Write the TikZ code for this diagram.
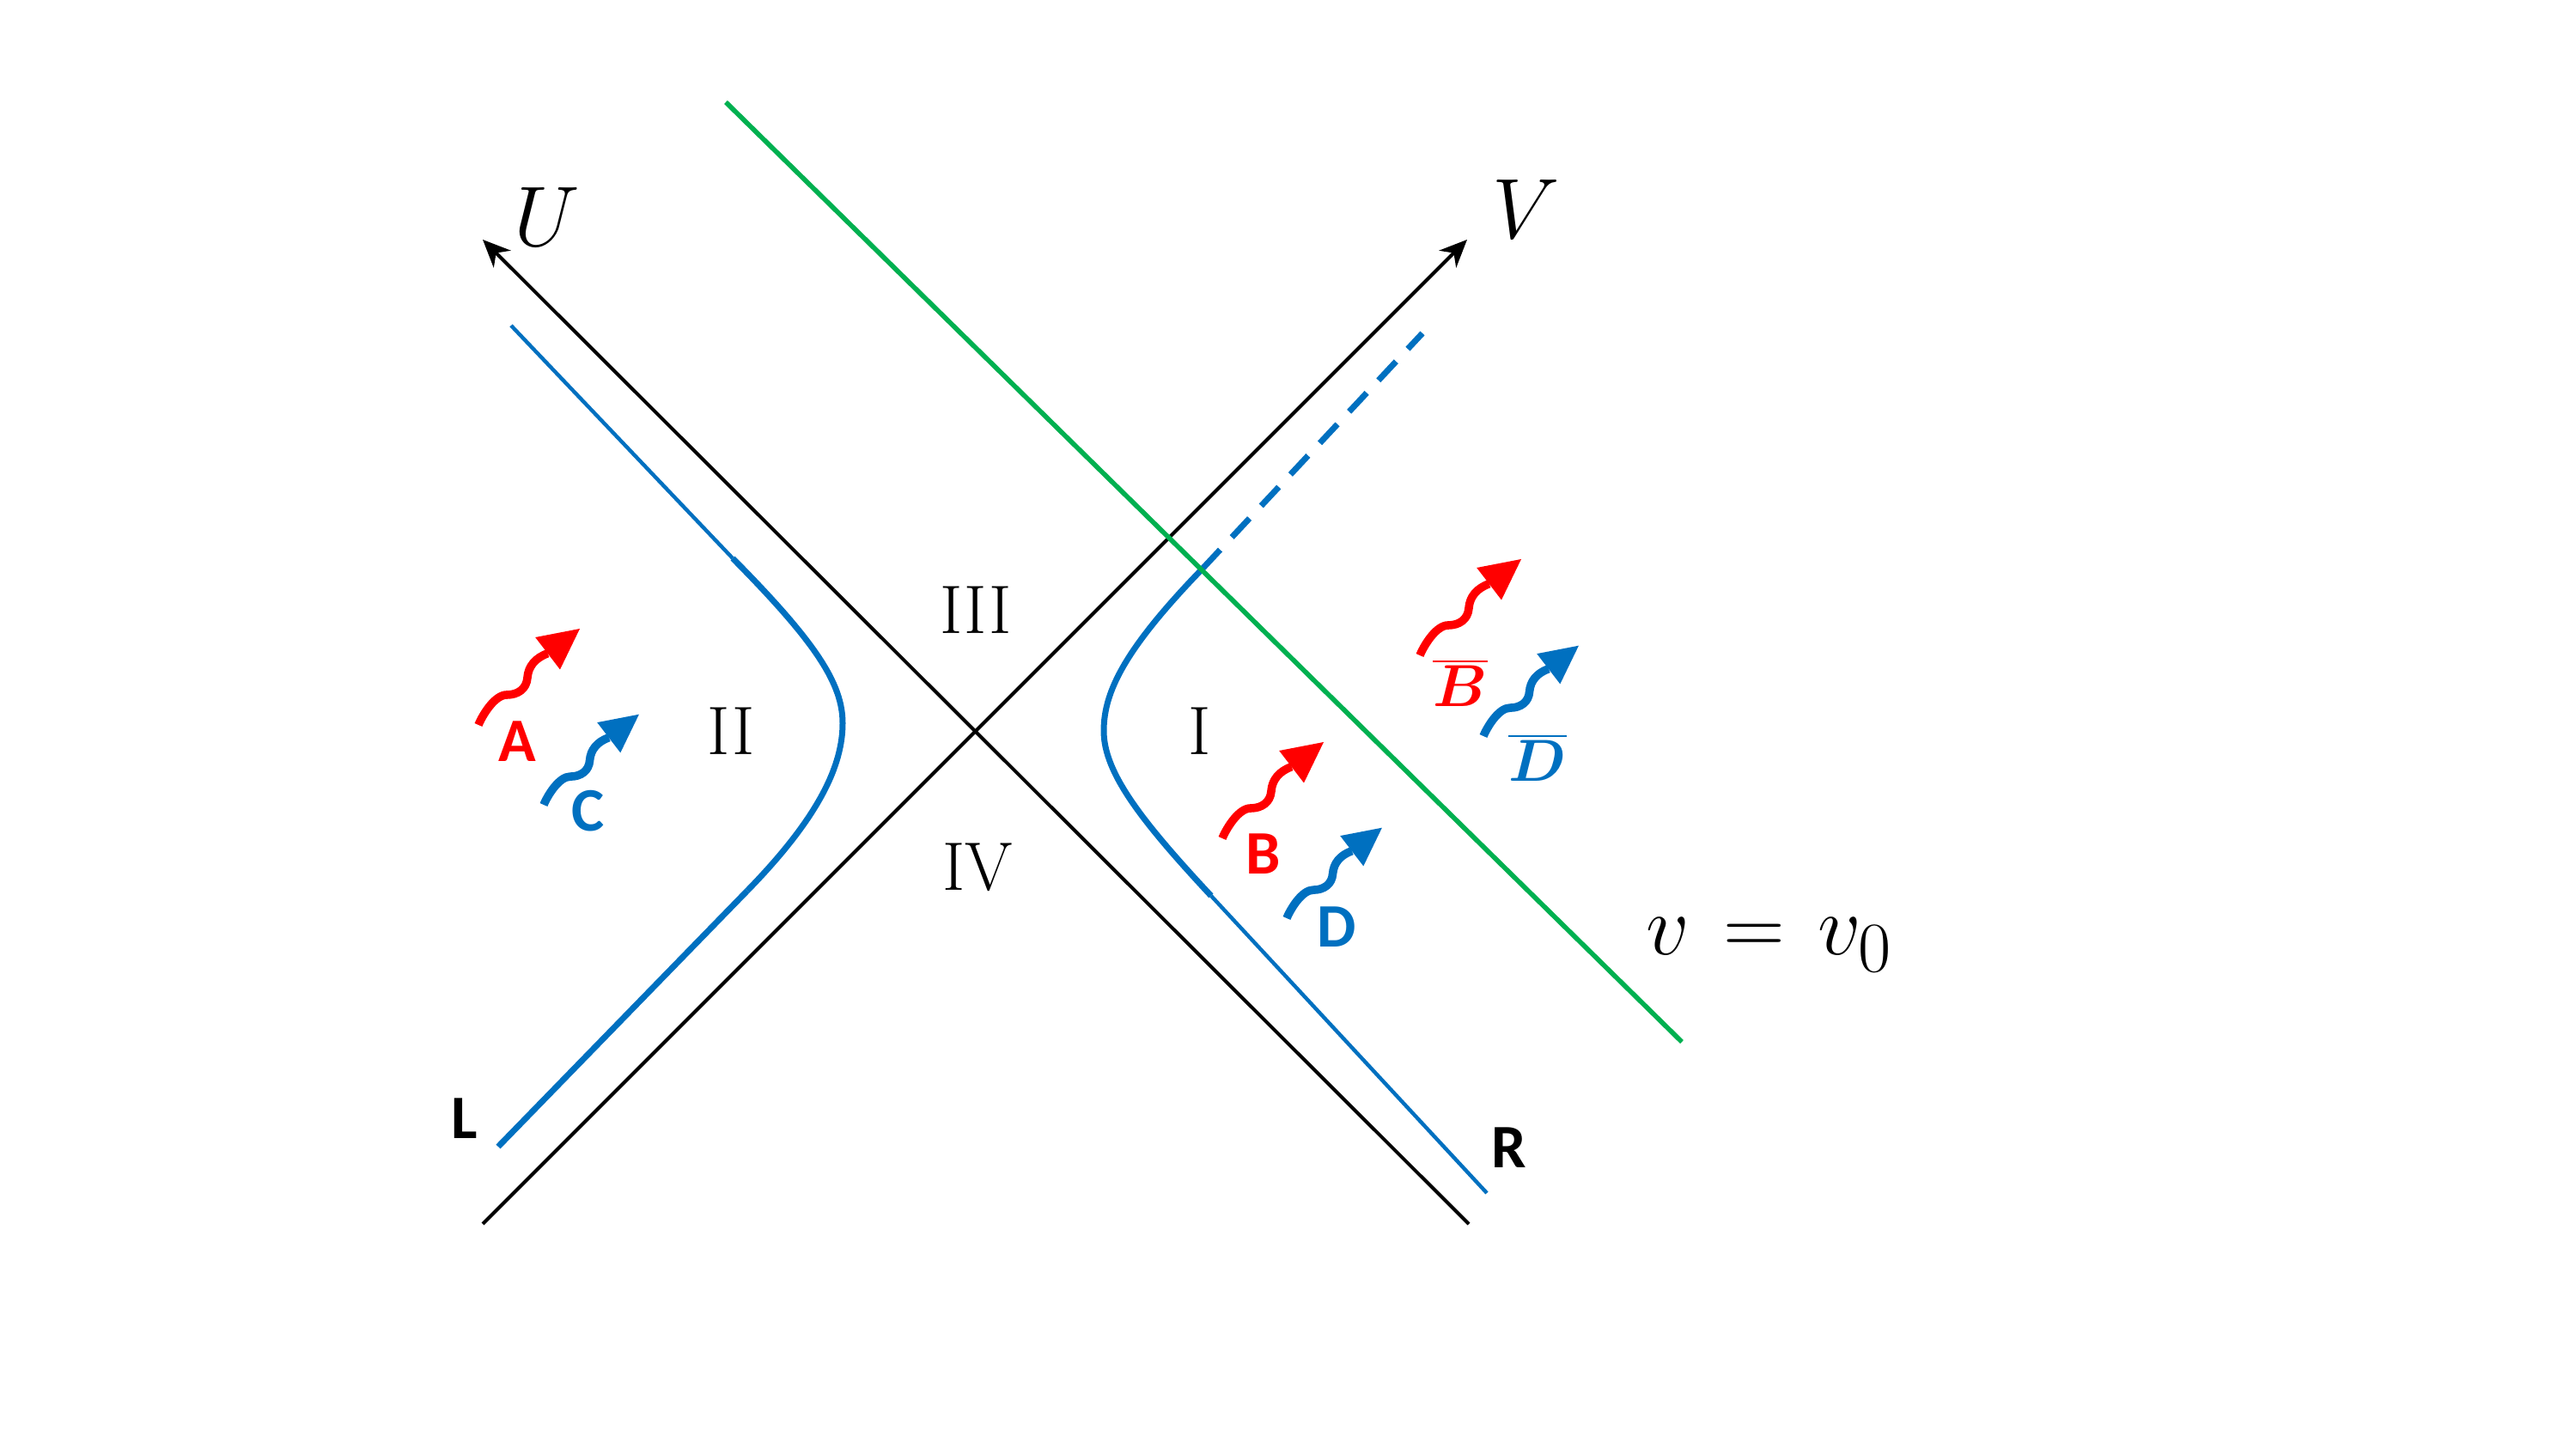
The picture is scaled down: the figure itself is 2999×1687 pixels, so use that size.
\documentclass[tikz,border=0pt]{standalone}
\usepackage{bm}
\usepackage{fontspec}
\newfontfamily\calib{Carlito}
\usetikzlibrary{arrows.meta}
\definecolor{ublue}{RGB}{0,112,192}
\definecolor{ured}{RGB}{255,0,0}
\definecolor{ugreen}{RGB}{0,176,80}
\tikzset{
  axisline/.style={black, line width=1pt, -{Stealth[length=8pt,width=7pt,inset=2.5pt]}},
  thickblue/.style={ublue, line width=1.75pt},
  thinblue/.style={ublue, line width=1.1pt},
  greenline/.style={ugreen, line width=1.4pt},
  roman/.style={font=\fontsize{20}{24}\selectfont, inner sep=0pt},
  axlabel/.style={font=\fontsize{23}{27}\selectfont, inner sep=0pt},
  tag/.style={font=\fontsize{18}{22}\selectfont\calib\bfseries, inner sep=0pt, anchor=base},
  bartag/.style={font=\fontsize{16}{19}\selectfont, inner sep=0pt, anchor=base},
  wavyarrow/.pic={
    \draw[line width=2.4pt] (0,0) .. controls (5,-12) and (19,-35) .. (33,-35)
      .. controls (46,-35) and (56,-42) .. (57,-55)
      .. controls (58,-68) and (66,-78) .. (80.7,-83.3);
    \fill (118,-112) -- (95,-64.5) -- (66.2,-102) -- cycle;
  },
}
\begin{document}
\begin{tikzpicture}[x=0.25pt, y=-0.25pt]
\useasboundingbox (0,0) rectangle (2999,1687);
\fill[white] (0,0) rectangle (2999,1687);

% axes
\coordinate (O) at (1136,851);
\coordinate (Vs) at (562,1425);
\coordinate (Vt) at (1708,279);
\coordinate (Us) at (1710,1425);
\coordinate (Ut) at (562,279);
\draw[axisline] (Vs) -- (Vt);
\draw[axisline] (Us) -- (Ut);

% right hyperbola
\coordinate (R1) at (1400,662);
\coordinate (R2) at (1410,1043);
\coordinate (R3) at (1731,1389);
\coordinate (Rd) at (1656,388);
\draw[thickblue] (R1) .. controls (1310,755) and (1285,805) .. (1285,851)
  .. controls (1285,900) and (1330,957) .. (R2);
\draw[thickblue, dash pattern=on 7.5pt off 5pt] (R1) -- (Rd);
\draw[thinblue] (R2) -- (R3);

% left hyperbola
\coordinate (L0) at (595,379);
\coordinate (L1) at (853,650);
\coordinate (L2) at (870,1037);
\coordinate (L3) at (580,1335);
\draw[thinblue] (L0) -- (L1);
\draw[thickblue] (L1) .. controls (950,748) and (981,796) .. (981,842)
  .. controls (981,890) and (955,950) .. (L2);
\draw[thickblue] (L2) -- (L3);

% green line
\coordinate (G1) at (845,119);
\coordinate (G2) at (1958,1213);
\draw[greenline] (G1) -- (G2);

% labels
\node[axlabel] (Ulab) at (637,253) {$U$};
\node[axlabel] (Vlab) at (1777,244) {$V$};
\node[roman] (r3) at (1136,710) {III};
\node[roman] (r2) at (851,851) {II};
\node[roman] (r1) at (1397,851) {I};
\node[roman] (r4) at (1138,1010) {IV};
\node[anchor=base west, font=\fontsize{30}{34}\selectfont, inner sep=0pt] (eq) at (1916,1112) {$v \mskip2mu = \mskip2mu v_0$};

% wavy arrows
\pic[color=ured] at (557,844) {wavyarrow};
\pic[color=ublue, scale=0.94] at (633,937) {wavyarrow};
\pic[color=ured] at (1423,976) {wavyarrow};
\pic[color=ublue, scale=0.94] at (1498,1069) {wavyarrow};
\pic[color=ured] at (1653,763) {wavyarrow};
\pic[color=ublue, scale=0.94] at (1727,857) {wavyarrow};

% tags
\node[tag, ured] (tA) at (602,887) {A};
\node[tag, ublue] (tC) at (685,968) {C};
\node[tag, ured] (tB) at (1471,1018) {B};
\node[tag, ublue] (tD) at (1556,1103) {D};
\node[tag] (tL) at (541,1325) {L};
\node[tag] (tR) at (1757,1360) {R};
\node[bartag, ured] (tBb) at (1700,823) {$\overline{\bm{B}}$};
\node[bartag, ublue] (tDb) at (1790,910) {$\overline{\bm{D}}$};
\end{tikzpicture}
\end{document}
